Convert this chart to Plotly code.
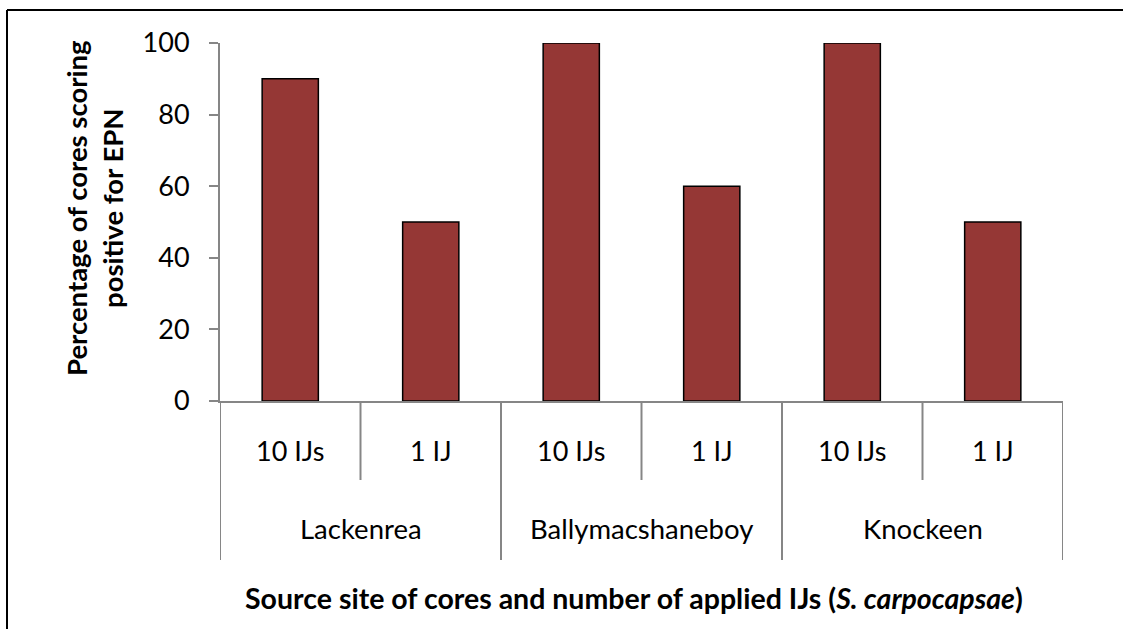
'''Bar chart: EPN positive cores by source site and number of applied IJs'''

import plotly.graph_objects as go

sites = ["Lackenrea", "Lackenrea", "Ballymacshaneboy", "Ballymacshaneboy", "Knockeen", "Knockeen"]
doses = ["10 IJs", "1 IJ", "10 IJs", "1 IJ", "10 IJs", "1 IJ"]
percent_positive = [90, 50, 100, 60, 100, 50]
site_names = ["Lackenrea", "Ballymacshaneboy", "Knockeen"]
y_ticks = [0, 20, 40, 60, 80, 100]

FONT = "Lato"
BAR = "#953735"
AXIS = "#868686"

W, H = 1124, 630
# plot area in pixels
L, R, T, B = 220, 1063, 43, 401

def py(pix):
    # pixel row -> paper y
    return (B - pix) / (B - T)

def px(pix):
    return (pix - L) / (R - L)

cats = [s + " | " + d for s, d in zip(sites, doses)]

fig = go.Figure()

fig.add_trace(go.Bar(
    x=cats,
    y=percent_positive,
    width=0.4,
    marker=dict(color=BAR, line=dict(color="black", width=1.5)),
    showlegend=False,
))

fig.update_layout(
    width=W, height=H,
    margin=dict(l=L, r=W - R, t=T, b=H - B),
    plot_bgcolor="white",
    paper_bgcolor="white",
    font=dict(family=FONT, size=27, color="black"),
    bargap=0.6,
)

fig.update_xaxes(
    type="category",
    range=[-0.5, len(cats) - 0.5],
    showticklabels=False,
    showline=True, linecolor=AXIS, linewidth=2,
    ticks="", showgrid=False, zeroline=False,
)

fig.update_yaxes(
    range=[0, 100],
    tickvals=y_ticks,
    ticks="outside", ticklen=9, tickwidth=2, tickcolor=AXIS,
    showline=True, linecolor=AXIS, linewidth=2,
    showgrid=False, zeroline=False,
    tickfont=dict(size=27),
    ticklabelstandoff=14,
)

# category dividers: short ones between doses, long ones between sites
for i in range(len(cats) + 1):
    outer = i == 0 or i == len(cats) or sites[i - 1] != sites[i]
    fig.add_shape(
        type="line", xref="x", yref="paper",
        x0=i - 0.5, x1=i - 0.5, y0=0, y1=py(560) if outer else py(480),
        line=dict(color=AXIS, width=2),
    )

# dose labels
for c, d in zip(cats, doses):
    fig.add_annotation(
        x=c, y=py(451), xref="x", yref="paper",
        text=d, showarrow=False, yanchor="middle",
        font=dict(size=27),
    )

# site labels centred under their pair of bars
for name in site_names:
    idx = [i for i, s in enumerate(sites) if s == name]
    fig.add_annotation(
        x=sum(idx) / len(idx), y=py(528), xref="x", yref="paper",
        text=name, showarrow=False, yanchor="middle",
        font=dict(size=27.5),
    )

# axis titles
fig.add_annotation(
    x=px(634), y=py(598), xref="paper", yref="paper",
    text="<b>Source site of cores and number of applied IJs (<i>S. carpocapsae</i>)</b>",
    showarrow=False, yanchor="middle", xanchor="center",
    font=dict(size=28.5),
)
fig.add_annotation(
    x=px(94), y=py(208), xref="paper", yref="paper",
    text="<b>Percentage of cores scoring<br>positive for EPN</b>",
    showarrow=False, textangle=-90, xanchor="center", yanchor="middle",
    font=dict(size=27.5),
)

# chart frame (only top and left edges fall inside the picture)
fig.add_shape(type="line", xref="paper", yref="paper",
              x0=px(7), x1=px(W - 1), y0=py(10), y1=py(10),
              line=dict(color="black", width=2))
fig.add_shape(type="line", xref="paper", yref="paper",
              x0=px(7), x1=px(7), y0=py(10), y1=py(H - 1),
              line=dict(color="black", width=2))

# drop the page margin so the figure fills the window exactly
fig.write_html(
    "out.html",
    config={"displayModeBar": False},
    post_script="document.body.style.margin='0';document.body.style.overflow='hidden';",
)
